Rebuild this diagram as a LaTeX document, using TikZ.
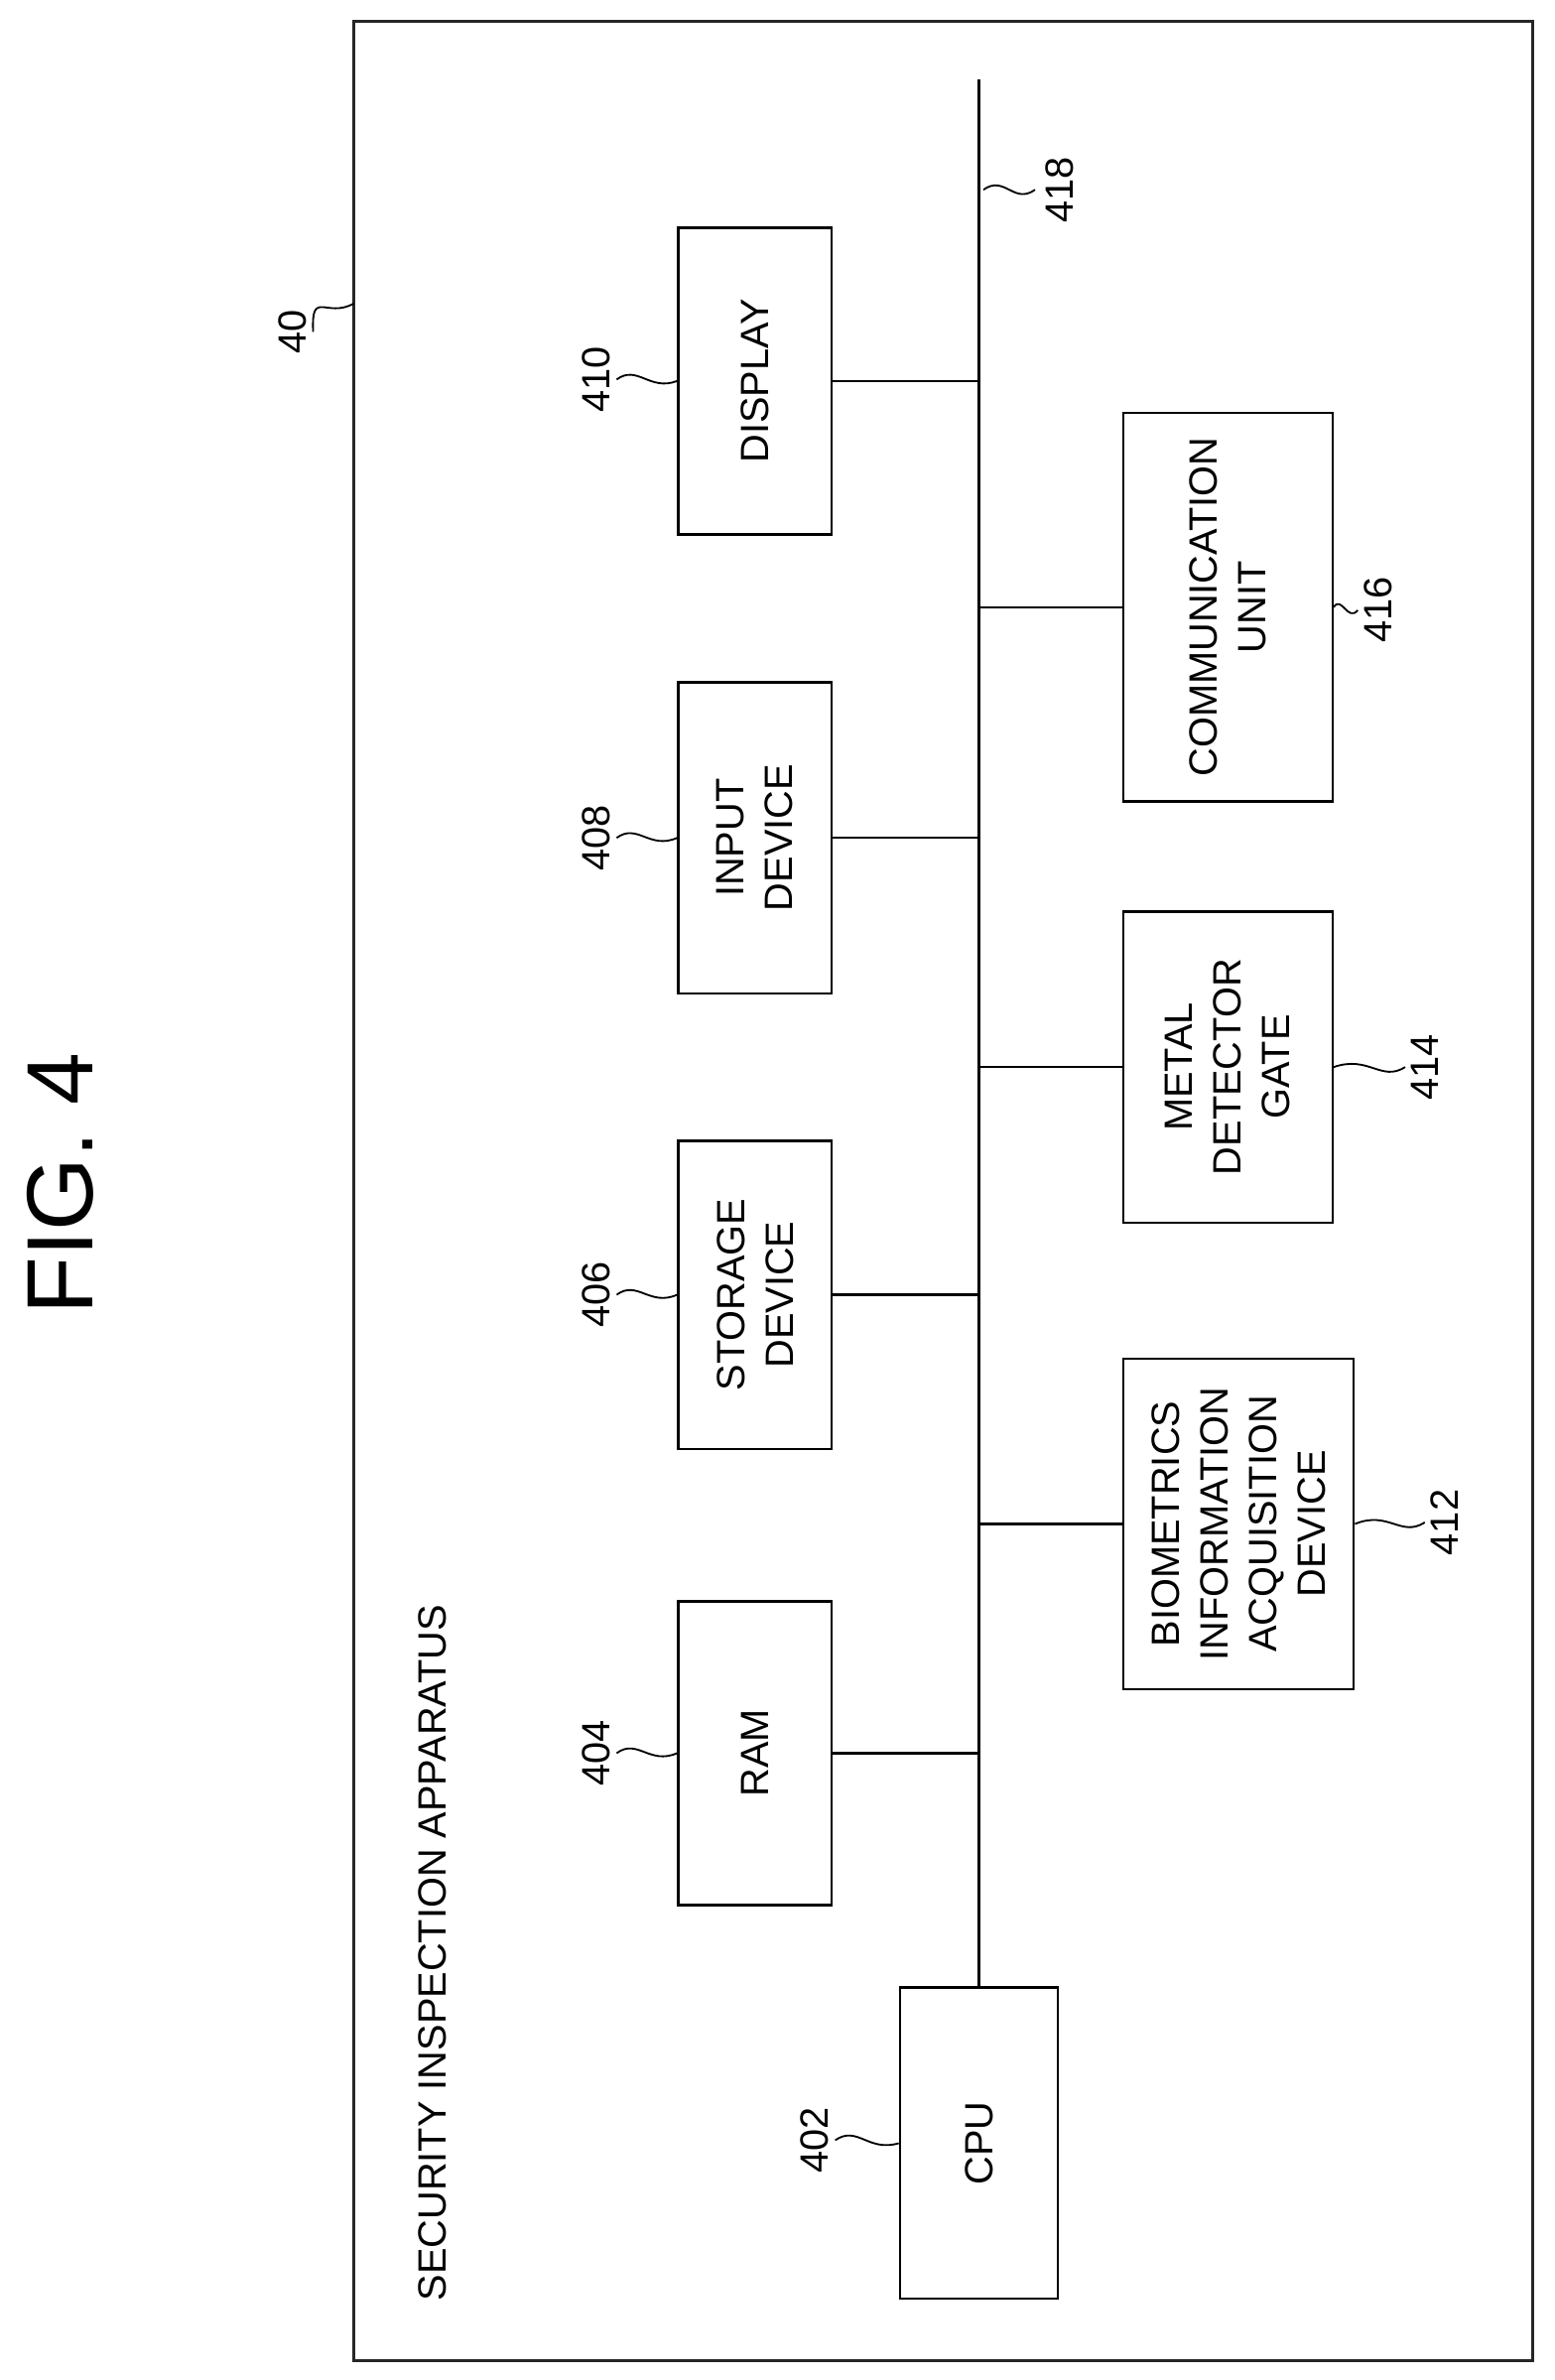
\documentclass[tikz,border=0pt]{standalone}
\usepackage{fontspec}
\setmainfont{Liberation Sans}
\usetikzlibrary{positioning}
\begin{document}
\begin{tikzpicture}[
x=1pt,y=-1pt,
box/.style={
  draw,
  line width=1.6pt,
  rotate=90,
  align=center,
  inner sep=0pt,
  font=\fontsize{26}{32}\selectfont
  },
lbl/.style={
  rotate=90,
  font=\fontsize{26}{30}\selectfont
  },
lead/.style={line width=1.2pt},
line width=1.6pt
]
\useasboundingbox (0,0) rectangle (1024,1568);
\draw[line width=2pt,black!85] (233,14) rectangle (1010,1555);
\node[rotate=90,font=\fontsize{62}{70}\selectfont] (fig) at (40,780) {FIG. 4};
\node[lbl,anchor=east] (t40) at (193,200) {40};
\node[lbl,anchor=west] (title) at (285,1520) {SECURITY INSPECTION APPARATUS};
% left column
\node[box,minimum width=202,minimum height=101] (disp) at (497.5,251) {DISPLAY};
\node[box,minimum width=205,minimum height=101] (inp) at (497.5,552) {INPUT\\DEVICE};
\node[box,minimum width=203,minimum height=101] (stor) at (497.5,853) {STORAGE\\DEVICE};
\node[box,minimum width=200,minimum height=101] (ram) at (497.5,1155) {RAM};
\node[box,minimum width=205,minimum height=104] (cpu) at (645,1412) {CPU};
% right column
\node[box,minimum width=256,minimum height=138] (comm) at (809,400) {COMMUNICATION\\UNIT};
\node[box,minimum width=205,minimum height=138] (metal) at (809,703) {METAL\\DETECTOR\\GATE};
\node[box,minimum width=218,minimum height=152] (bio) at (816,1004) {BIOMETRICS\\INFORMATION\\ACQUISITION\\DEVICE};
% bus
\coordinate (bustop) at (645,52);
\draw (bustop) -- (cpu.east);
\draw (disp.south) -- (disp.south -| bustop);
\draw (inp.south) -- (inp.south -| bustop);
\draw (stor.south) -- (stor.south -| bustop);
\draw (ram.south) -- (ram.south -| bustop);
\draw (comm.north) -- (comm.north -| bustop);
\draw (metal.north) -- (metal.north -| bustop);
\draw (bio.north) -- (bio.north -| bustop);
% reference labels
\node[lbl] (n418) at (698,125) {418};
\draw[lead] (648,125) .. controls (662,115) and (668,135) .. (682,125);
\draw[lead] (t40.south) .. controls (205,190) and (215,210) .. (233,200);
\node[lbl] (n410) at (393,250) {410};
\draw[lead] (n410.south) .. controls (420,240) and (428,258) .. (disp.north);
\node[lbl] (n408) at (393,552) {408};
\draw[lead] (n408.south) .. controls (420,542) and (428,560) .. (inp.north);
\node[lbl] (n406) at (393,853) {406};
\draw[lead] (n406.south) .. controls (420,843) and (428,861) .. (stor.north);
\node[lbl] (n404) at (393,1155) {404};
\draw[lead] (n404.south) .. controls (420,1145) and (428,1163) .. (ram.north);
\node[lbl] (n402) at (537,1410) {402};
\draw[lead] (n402.south) .. controls (565,1400) and (572,1418) .. (cpu.north);
\node[lbl] (n416) at (908,402) {416};
\draw[lead] (comm.south) .. controls (884,392) and (888,410) .. (n416.north);
\node[lbl] (n414) at (939,703) {414};
\draw[lead] (metal.south) .. controls (902,695) and (910,713) .. (n414.north);
\node[lbl] (n412) at (952,1003) {412};
\draw[lead] (bio.south) .. controls (915,995) and (923,1013) .. (n412.north);
\end{tikzpicture}
\end{document}
